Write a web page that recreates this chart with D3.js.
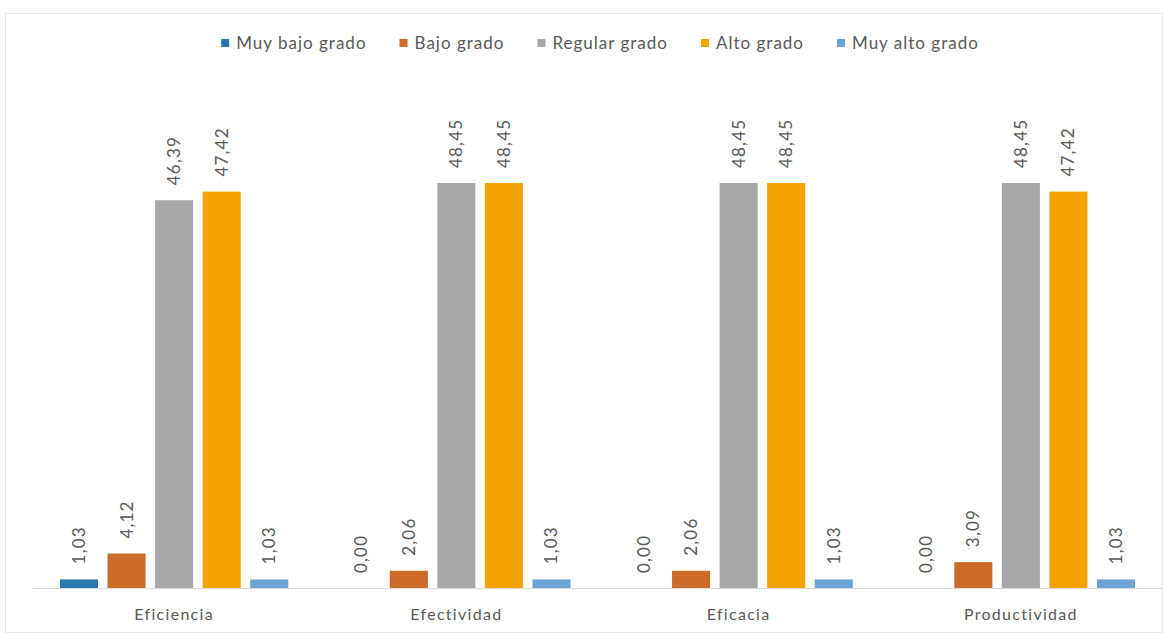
<!DOCTYPE html>
<html>
<head>
<meta charset="utf-8">
<script src="https://cdn.jsdelivr.net/npm/d3@7"></script>
<style>
  html, body { margin: 0; padding: 0; background: #ffffff; }
  svg { display: block; }
</style>
</head>
<body>
<svg id="chart" width="1165" height="633"></svg>
<script>
// Dimensiones evaluadas (eje X)
const categories = ["Eficiencia", "Efectividad", "Eficacia", "Productividad"];

// Niveles (series)
const series = ["Muy bajo grado", "Bajo grado", "Regular grado", "Alto grado", "Muy alto grado"];
const seriesColors = ["#2b78b0", "#cc6a28", "#a8a8a8", "#f5a300", "#6aa5d6"];

// Porcentajes por nivel, en el orden de las categorías
const muyBajo  = [1.03, 0.00, 0.00, 0.00];
const bajo     = [4.12, 2.06, 2.06, 3.09];
const regular  = [46.39, 48.45, 48.45, 48.45];
const alto     = [47.42, 48.45, 48.45, 47.42];
const muyAlto  = [1.03, 1.03, 1.03, 1.03];

const values = [muyBajo, bajo, regular, alto, muyAlto];

const svg = d3.select("#chart");
const W = 1165, H = 633;
const margin = { left: 33, right: 3 };
const baseY = 588;
const topY = 183;

const fmt = v => v.toFixed(2).replace(".", ",");
const font = "Lato, 'Open Sans', sans-serif";
const textColor = "#595959";

// faint chart-area border
svg.append("rect")
  .attr("x", 5.5).attr("y", 13.5)
  .attr("width", W - 8).attr("height", H - 14)
  .attr("fill", "none").attr("stroke", "#e8e8e8").attr("stroke-width", 1);

const x0 = d3.scaleBand()
  .domain(categories)
  .range([margin.left, W - margin.right])
  .paddingInner(0).paddingOuter(0);

const x1 = d3.scaleBand()
  .domain(series)
  .range([27, x0.bandwidth() - 27])
  .paddingInner(0.2).paddingOuter(0);

const y = d3.scaleLinear()
  .domain([0, 48.45])
  .range([baseY, topY]);

// baseline
svg.append("line")
  .attr("x1", margin.left).attr("x2", W - margin.right)
  .attr("y1", baseY + 0.5).attr("y2", baseY + 0.5)
  .attr("stroke", "#d9d9d9").attr("stroke-width", 1);

const groups = svg.selectAll("g.cat")
  .data(categories)
  .join("g")
  .attr("class", "cat")
  .attr("transform", d => `translate(${x0(d)},0)`);

const cells = groups.selectAll("g.cell")
  .data((c, ci) => series.map((s, si) => ({ s, si, v: values[si][ci] })))
  .join("g")
  .attr("class", "cell");

cells.append("rect")
  .attr("x", d => x1(d.s))
  .attr("y", d => y(d.v))
  .attr("width", x1.bandwidth())
  .attr("height", d => baseY - y(d.v))
  .attr("fill", d => seriesColors[d.si]);

cells.append("text")
  .attr("transform", d => `translate(${x1(d.s) + x1.bandwidth() / 2 + 6},${y(d.v) - 15}) rotate(-90)`)
  .attr("text-anchor", "start")
  .attr("font-family", font)
  .attr("font-size", 17)
  .attr("letter-spacing", 1.2)
  .attr("fill", textColor)
  .text(d => fmt(d.v));

// category axis labels
const xAxis = d3.axisBottom(x0).tickSize(0).tickPadding(0);
const axisG = svg.append("g")
  .attr("transform", `translate(0,${baseY + 27})`)
  .call(xAxis);
axisG.select(".domain").remove();
axisG.selectAll("text")
  .attr("font-family", font)
  .attr("font-size", 16)
  .attr("letter-spacing", 1.3)
  .attr("fill", textColor)
  .attr("dy", "0.32em");

// legend, centered above the plot
const legend = svg.append("g").attr("transform", "translate(0,43)");
const items = legend.selectAll("g")
  .data(series)
  .join("g");
items.append("rect")
  .attr("width", 8).attr("height", 8)
  .attr("y", -4)
  .attr("fill", (d, i) => seriesColors[i]);
items.append("text")
  .attr("x", 15)
  .attr("dy", "0.35em")
  .attr("font-family", font)
  .attr("font-size", 17)
  .attr("letter-spacing", 1)
  .attr("fill", textColor)
  .text(d => d);

let widths = [];
items.each(function () {
  widths.push(15 + d3.select(this).select("text").node().getComputedTextLength());
});
const gap = 33;
const total = d3.sum(widths) + gap * (widths.length - 1);
let cx = 600 - total / 2;
items.attr("transform", (d, i) => {
  const t = `translate(${cx},0)`;
  cx += widths[i] + gap;
  return t;
});
</script>
</body>
</html>
